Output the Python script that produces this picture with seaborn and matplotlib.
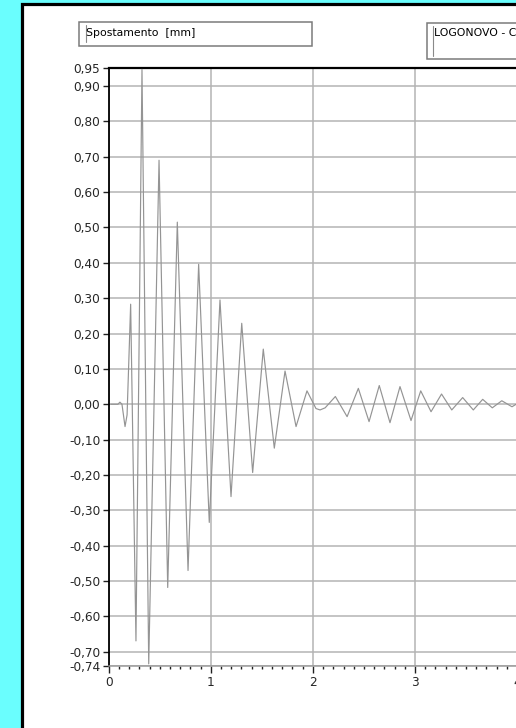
import numpy as np
import pandas as pd
import seaborn as sns
import matplotlib
matplotlib.use("Agg")
import matplotlib.pyplot as plt
from matplotlib.patches import Rectangle
from matplotlib.lines import Line2D

# ---- data ----
time_s = [0.02, 0.09, 0.11, 0.13, 0.16, 0.18, 0.215, 0.267, 0.326, 0.392,
          0.493, 0.578, 0.672, 0.777, 0.881, 0.985, 1.09, 1.198, 1.303, 1.41,
          1.514, 1.622, 1.727, 1.835, 1.942, 2.03, 2.07, 2.12, 2.22, 2.335,
          2.445, 2.55, 2.65, 2.755, 2.853, 2.961, 3.056, 3.157, 3.26, 3.36,
          3.467, 3.571, 3.663, 3.757, 3.85, 3.95, 3.99]
spostamento = [0.0, 0.0, 0.006, 0.0, -0.063, -0.03, 0.283, -0.669, 0.947, -0.734,
               0.69, -0.518, 0.515, -0.470, 0.396, -0.334, 0.295, -0.261, 0.229, -0.193,
               0.156, -0.124, 0.094, -0.063, 0.038, -0.012, -0.016, -0.010, 0.022, -0.035,
               0.045, -0.049, 0.053, -0.052, 0.050, -0.046, 0.038, -0.021, 0.029, -0.016,
               0.019, -0.016, 0.014, -0.010, 0.010, -0.007, 0.0]

y_ticks = [0.95, 0.90, 0.80, 0.70, 0.60, 0.50, 0.40, 0.30, 0.20, 0.10, 0.00,
           -0.10, -0.20, -0.30, -0.40, -0.50, -0.60, -0.70, -0.74]
y_tick_labels = ["0,95", "0,90", "0,80", "0,70", "0,60", "0,50", "0,40", "0,30",
                 "0,20", "0,10", "0,00", "-0,10", "-0,20", "-0,30", "-0,40",
                 "-0,50", "-0,60", "-0,70", "-0,74"]
x_ticks = [0, 1, 2, 3, 4]
x_tick_labels = ["0", "1", "2", "3", "4"]
legend_label = "Spostamento  [mm]"
station_label = "LOGONOVO - C"

df = pd.DataFrame({"t": time_s, "v": spostamento})

sns.set_style("white")
plt.rcParams["font.family"] = ["DejaVu Sans"]

W, H = 516, 728
fig = plt.figure(figsize=(W / 100, H / 100), dpi=100)
fig.patch.set_facecolor("#6AFEFE")

def fx(px):
    return px / W

def fy(py):
    return 1 - py / H

# white panel with thick black border
fig.patches.append(Rectangle((fx(22.3), -0.2), 1.5, fy(4.3) + 0.2,
                             transform=fig.transFigure, facecolor="white",
                             edgecolor="black", lw=2.3, zorder=-5))

# legend boxes
def sunken_box(x0, y0, x1, y1):
    fig.patches.append(Rectangle((fx(x0), fy(y1)), fx(x1) - fx(x0), fy(y0) - fy(y1),
                                 transform=fig.transFigure, facecolor="white",
                                 edgecolor="#7A7A7A", lw=1.1, zorder=1))

sunken_box(78.5, 22, 311.5, 45.5)
fig.lines.append(Line2D([fx(86), fx(86)], [fy(25), fy(42)], transform=fig.transFigure,
                        color="#8A8A8A", lw=0.8, zorder=2))
fig.text(fx(86.5), fy(33.5), legend_label, fontsize=7.8, va="center", ha="left",
         color="black", zorder=3)

sunken_box(427, 23, 540, 59)
fig.lines.append(Line2D([fx(433), fx(433)], [fy(26), fy(56)], transform=fig.transFigure,
                        color="#8A8A8A", lw=0.8, zorder=2))
fig.text(fx(433.5), fy(32.5), station_label, fontsize=7.8, va="center", ha="left",
         color="black", zorder=3)

# axes
x_left, x_max = 108.7, 4.2
px_per_unit = 102.1
x_right = x_left + x_max * px_per_unit
y_top, y_bot = 68.3, 666.0
ax = fig.add_axes([fx(x_left), fy(y_bot), fx(x_right) - fx(x_left), fy(y_top) - fy(y_bot)])
ax.set_facecolor("white")
ax.set_zorder(1)

sns.lineplot(data=df, x="t", y="v", ax=ax, color="#949494", lw=0.85, zorder=3)

ax.set_xlim(0, x_max)
ax.set_ylim(-0.74, 0.95)

ax.set_yticks(y_ticks)
ax.set_yticklabels(y_tick_labels)
ax.set_xticks(x_ticks)
ax.set_xticklabels(x_tick_labels)
ax.set_xticks(np.arange(0, x_max + 1e-9, 0.1), minor=True)

ax.grid(True, which="major", color="#B4B4B4", lw=1.1, zorder=1)
ax.grid(False, which="minor")
ax.tick_params(axis="y", which="major", direction="out", length=4, width=1,
               color="#202020", pad=2, labelsize=8.7, left=True)
ax.tick_params(axis="x", which="major", direction="out", length=5, width=1,
               color="#202020", pad=2.5, labelsize=8.7, bottom=True)
ax.tick_params(axis="x", which="minor", direction="out", length=2.5, width=1,
               color="#202020", bottom=True)

ax.set_xlabel("")
ax.set_ylabel("")
ax.spines["right"].set_visible(False)
ax.spines["left"].set_color("black")
ax.spines["left"].set_linewidth(1.3)
ax.spines["top"].set_color("black")
ax.spines["top"].set_linewidth(1.6)
ax.spines["bottom"].set_color("#9A9A9A")
ax.spines["bottom"].set_linewidth(1.1)

fig.savefig("out.png", dpi=100, facecolor=fig.get_facecolor())
